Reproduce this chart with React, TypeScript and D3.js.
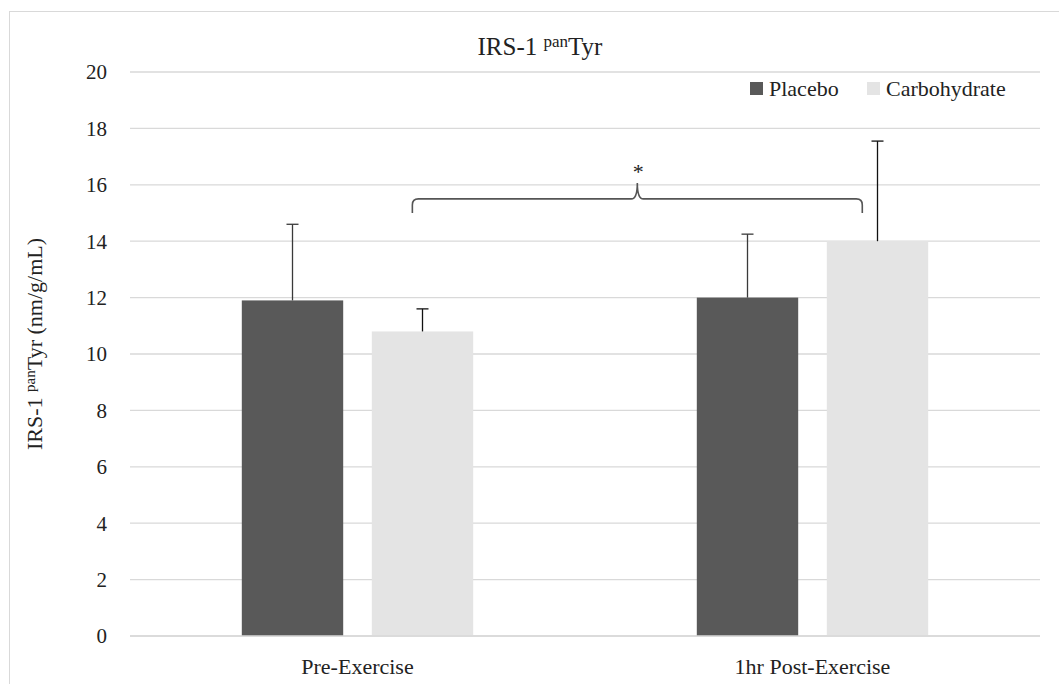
import React, { useEffect, useRef } from 'react';
import * as d3 from 'd3';

const categories = ['Pre-Exercise', '1hr Post-Exercise'];
const seriesNames = ['Placebo', 'Carbohydrate'];
const placeboMeans = [11.9, 12.0];
const placeboErrors = [2.7, 2.25];
const carbMeans = [10.8, 14.0];
const carbErrors = [0.8, 3.55];
const yTicks = [0, 2, 4, 6, 8, 10, 12, 14, 16, 18, 20];
const colors = ['#595959', '#e4e4e4'];
const errColors = ['#3a3a3a', '#111'];
const bracketLevel = 15.5;

const FONT = '"Liberation Serif", "DejaVu Serif", serif';

const App = () => {
  const svgRef = useRef<SVGSVGElement>(null);

  useEffect(() => {
    const svg = d3.select(svgRef.current);
    svg.selectAll('*').remove();

    const width = 1059;
    const height = 684;
    const left = 130;
    const right = 1040;
    const top = 72;
    const bottom = 636;

    // outer chart frame
    svg.append('rect')
      .attr('x', 9.5).attr('y', 11.5)
      .attr('width', width + 20).attr('height', height + 20)
      .attr('fill', 'white')
      .attr('stroke', '#d9d9d9').attr('stroke-width', 1);

    const y = d3.scaleLinear().domain([0, 20]).range([bottom, top]);
    const x0 = d3.scaleBand().domain(categories).range([left, right]);
    const x1 = d3.scaleBand().domain(seriesNames)
      .range([0, x0.bandwidth()])
      .paddingInner(0.22)
      .paddingOuter(0.86);

    // gridlines
    svg.append('g')
      .selectAll('line')
      .data(yTicks)
      .enter().append('line')
      .attr('x1', left).attr('x2', right)
      .attr('y1', d => y(d)).attr('y2', d => y(d))
      .attr('stroke', '#d9d9d9')
      .attr('stroke-width', 1.3);

    // y tick labels
    svg.append('g')
      .selectAll('text')
      .data(yTicks)
      .enter().append('text')
      .attr('x', 107)
      .attr('y', d => y(d))
      .attr('dy', '0.35em')
      .attr('text-anchor', 'end')
      .style('font-family', FONT)
      .style('font-size', '21px')
      .attr('fill', '#222')
      .text(d => d);

    const rows = categories.map((c, i) => ({
      category: c,
      values: [
        { name: seriesNames[0], mean: placeboMeans[i], err: placeboErrors[i], k: 0 },
        { name: seriesNames[1], mean: carbMeans[i], err: carbErrors[i], k: 1 },
      ],
    }));

    const groups = svg.append('g')
      .selectAll('g')
      .data(rows)
      .enter().append('g')
      .attr('transform', d => `translate(${x0(d.category)},0)`);

    groups.selectAll('rect')
      .data(d => d.values)
      .enter().append('rect')
      .attr('x', d => x1(d.name)!)
      .attr('width', x1.bandwidth())
      .attr('y', d => y(d.mean))
      .attr('height', d => y(0) - y(d.mean))
      .attr('fill', d => colors[d.k]);

    // error bars (positive only)
    const eb = groups.selectAll('g.err')
      .data(d => d.values)
      .enter().append('g')
      .attr('class', 'err');

    eb.append('line')
      .attr('x1', d => x1(d.name)! + x1.bandwidth() / 2)
      .attr('x2', d => x1(d.name)! + x1.bandwidth() / 2)
      .attr('y1', d => y(d.mean))
      .attr('y2', d => y(d.mean + d.err))
      .attr('stroke', d => errColors[d.k]).attr('stroke-width', 1.3);

    eb.append('line')
      .attr('x1', d => x1(d.name)! + x1.bandwidth() / 2 - 6)
      .attr('x2', d => x1(d.name)! + x1.bandwidth() / 2 + 6)
      .attr('y1', d => y(d.mean + d.err))
      .attr('y2', d => y(d.mean + d.err))
      .attr('stroke', d => errColors[d.k]).attr('stroke-width', 1.3);

    // x axis line
    svg.append('line')
      .attr('x1', left).attr('x2', right)
      .attr('y1', bottom).attr('y2', bottom)
      .attr('stroke', '#d9d9d9').attr('stroke-width', 1.5);

    // category labels
    svg.append('g')
      .selectAll('text')
      .data(categories)
      .enter().append('text')
      .attr('x', d => x0(d)! + x0.bandwidth() / 2)
      .attr('y', 674)
      .attr('text-anchor', 'middle')
      .style('font-family', FONT)
      .style('font-size', '22px')
      .attr('fill', '#222')
      .text(d => d);

    // significance bracket
    const bx1 = x0(categories[0])! + x1(seriesNames[1])! + x1.bandwidth() * 0.4;
    const bx2 = x0(categories[1])! + x1(seriesNames[1])! + x1.bandwidth() * 0.35;
    const bm = (bx1 + bx2) / 2;
    const by = y(bracketLevel);
    const r = 6;
    const bracket = d3.path();
    bracket.moveTo(bx1, by + 14);
    bracket.lineTo(bx1, by + r);
    bracket.quadraticCurveTo(bx1, by, bx1 + r, by);
    bracket.lineTo(bm - r, by);
    bracket.quadraticCurveTo(bm, by, bm, by - 16);
    bracket.quadraticCurveTo(bm, by, bm + r, by);
    bracket.lineTo(bx2 - r, by);
    bracket.quadraticCurveTo(bx2, by, bx2, by + r);
    bracket.lineTo(bx2, by + 14);
    svg.append('path')
      .attr('d', bracket.toString())
      .attr('fill', 'none')
      .attr('stroke', '#555')
      .attr('stroke-width', 1.6);

    svg.append('text')
      .attr('x', bm + 1)
      .attr('y', by - 20)
      .attr('text-anchor', 'middle')
      .style('font-family', FONT)
      .style('font-size', '22px')
      .attr('fill', '#222')
      .text('*');

    // title
    const title = svg.append('text')
      .attr('x', 540)
      .attr('y', 55)
      .attr('text-anchor', 'middle')
      .style('font-family', FONT)
      .style('font-size', '25px')
      .attr('fill', '#222');
    title.append('tspan').text('IRS-1 ');
    title.append('tspan').attr('dy', -8).style('font-size', '17px').text('pan');
    title.append('tspan').attr('dy', 8).text('Tyr');

    // y axis title
    const yLabel = svg.append('text')
      .attr('transform', `translate(42,${(top + bottom) / 2 - 10}) rotate(-90)`)
      .attr('text-anchor', 'middle')
      .style('font-family', FONT)
      .style('font-size', '22px')
      .attr('fill', '#222');
    yLabel.append('tspan').text('IRS-1 ');
    yLabel.append('tspan').attr('dy', -7).style('font-size', '15px').text('pan');
    yLabel.append('tspan').attr('dy', 7).text('Tyr (nm/g/mL)');

    // legend
    const legendX = [750, 867];
    const legend = svg.append('g')
      .selectAll('g')
      .data(seriesNames)
      .enter().append('g')
      .attr('transform', (d, i) => `translate(${legendX[i]},82)`);
    legend.append('rect')
      .attr('width', 13).attr('height', 13)
      .attr('fill', (d, i) => colors[i]);
    legend.append('text')
      .attr('x', 19).attr('y', 14)
      .style('font-family', FONT)
      .style('font-size', '22px')
      .attr('fill', '#222')
      .text(d => d);
  }, []);

  return (
    <svg ref={svgRef} width={1059} height={684}
      style={{ position: 'absolute', left: 0, top: 0, background: 'white' }} />
  );
};

export default App;
